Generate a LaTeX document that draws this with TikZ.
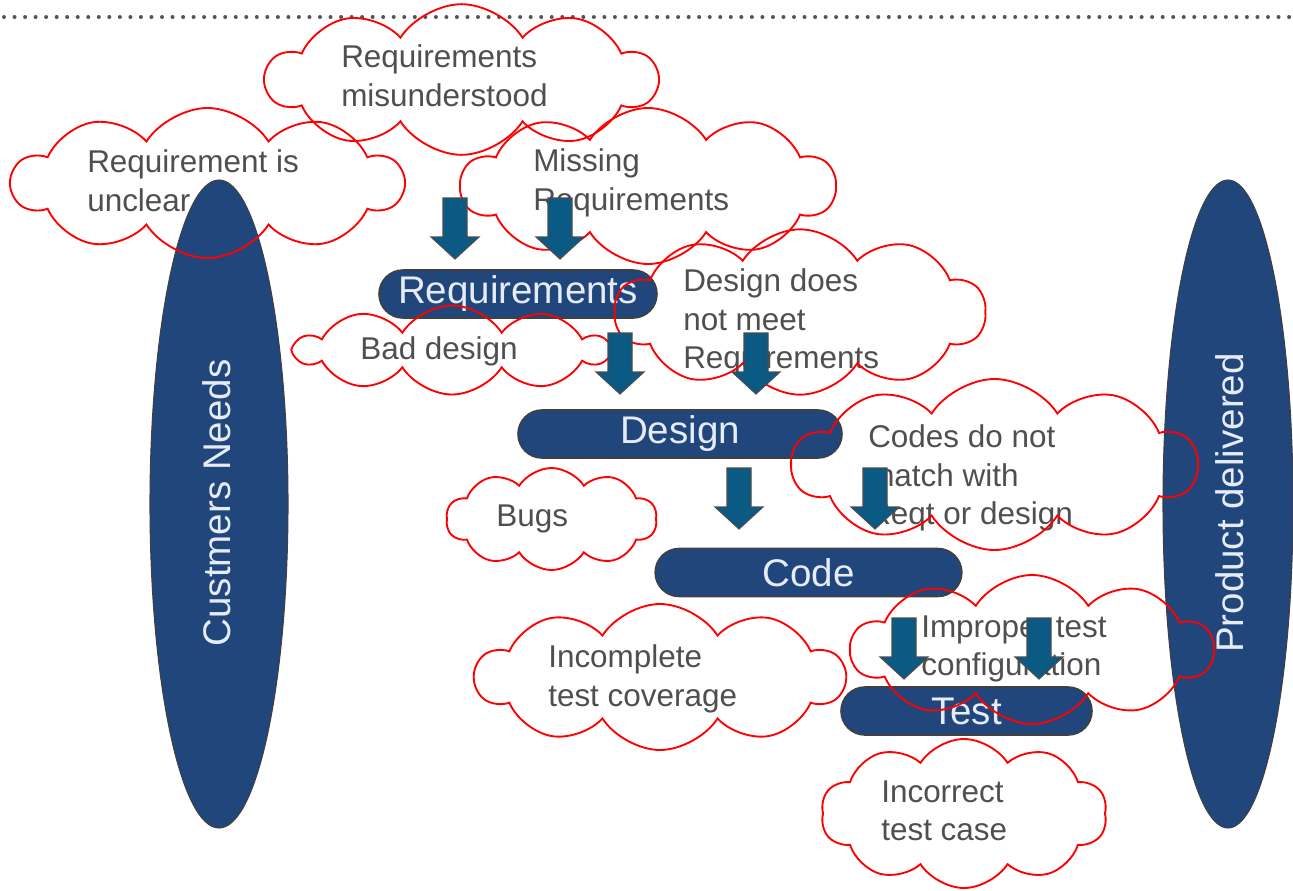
\documentclass[tikz,border=0pt]{standalone}
\usepackage{fontspec}
\setmainfont{Liberation Sans}
\usetikzlibrary{shapes.symbols,shapes.geometric}
\definecolor{ovalblue}{HTML}{21467C}
\definecolor{arrowblue}{HTML}{0B5A84}
\definecolor{textgray}{HTML}{4F4F4F}
\definecolor{pilltext}{HTML}{E6ECF5}
\definecolor{dotgray}{HTML}{555555}
\begin{document}
\begin{tikzpicture}[x=0.75pt,y=-0.75pt,
  cloudshape/.style={cloud, cloud puffs=10, cloud puff arc=115, cloud ignores aspect,
    draw=red, line width=1.4pt, inner sep=0pt},
  cloudtext/.style={font=\fontsize{23.6}{28.9}\selectfont, text=textgray, align=left,
    anchor=west, inner sep=0pt},
  pill/.style={rectangle, rounded corners=18pt, fill=ovalblue, draw=black!75,
    line width=1.2pt, text=pilltext, font=\fontsize{28.9}{34}\selectfont,
    minimum height=36pt, inner sep=0pt},
  oval/.style={ellipse, fill=ovalblue, draw=black!75, line width=0.8pt, inner sep=0pt},
  ovaltext/.style={text=pilltext, font=\fontsize{28.9}{34}\selectfont, rotate=90, inner sep=0pt},
  dotline/.style={dotgray, line width=3pt, line cap=round, dash pattern=on 0pt off 7.9pt},
  blockarrow/.pic={\draw[fill=arrowblue, draw=black!70, line width=0.8pt]
    (-12,0) -- (12,0) -- (12,39) -- (24,39) -- (0,61) -- (-24,39) -- (-12,39) -- cycle;}
]
\useasboundingbox (0,0) rectangle (1293,890);

% dotted top line
\coordinate (dl) at (4,17);
\coordinate (dr) at (1293,17);
\draw[dotline] (dl) -- (dr);

% cloud texts
\node[cloudtext] (t1) at (341,76) {Requirements\\misunderstood};
\node[cloudtext] (t2) at (87,181) {Requirement is\\unclear};
\node[cloudtext] (t3) at (533,183) {Missing\\Requirements};
\node[cloudtext] (t4) at (683,322) {Design does\\not meet\\Requirements};
\node[cloudtext] (t5) at (360,351) {Bad design};
\node[cloudtext] (t6) at (868,478) {Codes do not\\match with\\Reqt or design};
\node[cloudtext] (t7) at (496,519) {Bugs};
\node[cloudtext] (t8) at (548,679) {Incomplete\\test coverage};
\node[cloudtext] (t9) at (921,649) {Improper test\\configuration};
\node[cloudtext] (t10) at (881,811) {Incorrect\\test case};

% ovals
\node[oval, minimum width=103.5pt, minimum height=486pt] (e1) at (219,504) {};
\node[ovaltext] (e1t) at (217,503) {Custmers Needs};
\node[oval, minimum width=97.5pt, minimum height=486pt] (e2) at (1228,504) {};
\node[ovaltext] (e2t) at (1230,503) {Product delivered};

% pills
\node[pill, minimum width=208.5pt] (p1) at (518,294) {Requirements};
\node[pill, minimum width=243pt] (p2) at (680,434) {Design};
\node[pill, minimum width=230pt] (p3) at (808.5,572.5) {Code};
\node[pill, minimum width=188.25pt] (p4) at (966.5,711) {Test};

% cloud outlines
\node[cloudshape, minimum width=293pt, minimum height=113pt] (c1) at (461.5,79.5) {};
\node[cloudshape, minimum width=293pt, minimum height=112.5pt] (c2) at (207.5,183) {};
\node[cloudshape, minimum width=280.5pt, minimum height=117pt] (c3) at (648,186) {};
\node[cloudshape, minimum width=278pt, minimum height=124pt] (c4) at (800,312) {};
\node[cloudshape, minimum width=234pt, minimum height=66.75pt] (c5) at (452,350) {};
\node[cloudshape, minimum width=303.75pt, minimum height=128.25pt] (c6) at (994.5,464.5) {};
\node[cloudshape, minimum width=158pt, minimum height=76.5pt] (c7) at (551.5,519) {};
\node[cloudshape, minimum width=276.75pt, minimum height=109.5pt] (c8) at (660,677) {};
\node[cloudshape, minimum width=271.5pt, minimum height=111.75pt] (c9) at (1032,649.5) {};
\node[cloudshape, minimum width=214.5pt, minimum height=111.75pt] (c10) at (964,813.5) {};

% block arrows
\pic (a1) at (455,198) {blockarrow};
\pic (a2) at (560,198) {blockarrow};
\pic (a3) at (620,333) {blockarrow};
\pic (a4) at (756,333) {blockarrow};
\pic (a5) at (739,468) {blockarrow};
\pic (a6) at (875,468) {blockarrow};
\pic (a7) at (904,618) {blockarrow};
\pic (a8) at (1039,618) {blockarrow};
\end{tikzpicture}
\end{document}
